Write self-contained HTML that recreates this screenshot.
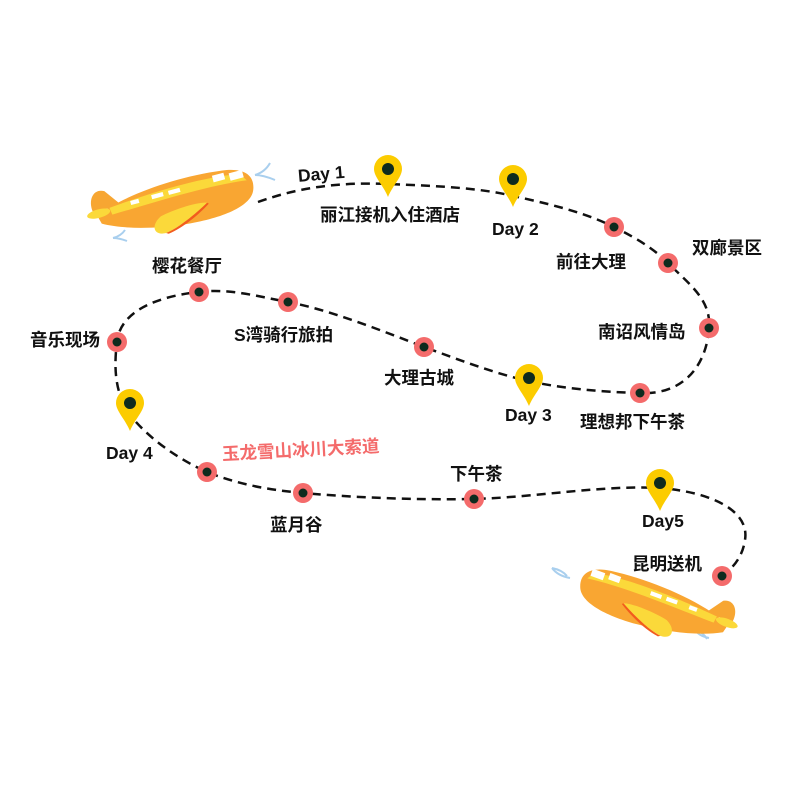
<!DOCTYPE html>
<html><head><meta charset="utf-8"><style>
html,body{margin:0;padding:0;background:#fff;}
svg text{font-family:"Liberation Sans","Noto Sans CJK SC",sans-serif;font-weight:bold;font-size:17.5px;fill:#111;}
</style></head><body>
<svg width="800" height="800" viewBox="0 0 800 800" xmlns="http://www.w3.org/2000/svg">
<defs>
<g id="plane">
  <path d="M-115,5 C-120,-10 -112,-22 -100,-18 L-80,0 Z" fill="#f7a632"/>
  <path d="M-110,10 C-80,-10 -20,-30 40,-35 C65,-37 78,-28 75,-10 C72,8 40,20 0,25 C-40,30 -80,28 -105,20 Z" fill="#f9a632"/>
  <path d="M-95,2 C-50,-12 10,-28 60,-30 L68,-22 C20,-18 -40,-2 -92,10 Z" fill="#fbd93a"/>
  <rect x="28" y="-31" width="14" height="8" fill="#fff" transform="rotate(-12 35 -27)"/>
  <rect x="48" y="-33" width="16" height="9" fill="#fff" transform="rotate(-12 56 -28)"/>
  <rect x="-45" y="-12" width="14" height="5" fill="#fff" transform="rotate(-12 -38 -10)"/>
  <rect x="-25" y="-16" width="14" height="5" fill="#fff" transform="rotate(-12 -18 -14)"/>
  <rect x="-70" y="-6" width="10" height="5" fill="#fff" transform="rotate(-12 -65 -4)"/>
  <ellipse cx="-108" cy="8" rx="14" ry="5" fill="#fbd93a" transform="rotate(-12 -108 8)"/>
  <path d="M-35,15 C-20,8 10,0 20,2 C5,15 -15,30 -30,35 C-45,38 -48,25 -35,15 Z" fill="#fbd93a"/>
  <path d="M20,2 C5,15 -15,30 -30,35 L-27,36 C-10,30 10,15 22,3 Z" fill="#f25c1e"/>
</g>
<g id="pin"><path d="M-14,0 A14,14 0 1 1 14,0 C14,8 5,16 0,28 C-5,16 -14,8 -14,0 Z" fill="#fccc00"/><circle r="6" fill="#0e2b1e"/></g>
<g id="dot"><circle r="10" fill="#f46b6b"/><circle r="4.5" fill="#0e2b1e"/></g>
</defs>

<path d="M255,175 q10,-3 15,-12 M255,175 q8,0 20,5" stroke="#a9cfee" stroke-width="2" fill="none"/>
<path d="M113,238 q8,-2 12,-8 M113,238 q6,0 14,3" stroke="#a9cfee" stroke-width="2" fill="none"/>
<path d="M552,568 q10,2 15,8 M552,568 q6,8 18,10" stroke="#a9cfee" stroke-width="2" fill="none"/>
<path d="M695,630 q8,2 12,9 M695,630 q4,6 14,8" stroke="#a9cfee" stroke-width="2" fill="none"/>

<path d="M258,202 C300,187 340,182 388,184 C440,186 480,188 513,196 C560,206 590,215 614,227 C640,240 655,250 668,263 C690,285 712,300 709,330 C705,370 680,395 640,393 C600,392 560,388 528,381 C490,372 460,360 424,347 C380,330 330,310 288,302 C260,297 230,288 199,292 C160,296 120,310 117,342 C112,380 120,400 130,415 C150,440 180,460 207,472 C240,485 270,490 303,493 C360,498 420,500 474,499 C540,497 600,485 660,488 C710,492 750,510 745,540 C742,560 730,570 722,576" stroke="#111" stroke-width="2.5" stroke-dasharray="9,6" fill="none"/>

<use href="#plane" transform="translate(190,202) scale(0.85) rotate(-3)"/>
<use href="#plane" transform="translate(640,604) scale(-0.82,0.82) rotate(-8)"/>

<use href="#dot" x="614" y="227"/><use href="#dot" x="668" y="263"/><use href="#dot" x="709" y="328"/>
<use href="#dot" x="640" y="393"/><use href="#dot" x="424" y="347"/><use href="#dot" x="288" y="302"/>
<use href="#dot" x="199" y="292"/><use href="#dot" x="117" y="342"/><use href="#dot" x="207" y="472"/>
<use href="#dot" x="303" y="493"/><use href="#dot" x="474" y="499"/><use href="#dot" x="722" y="576"/>

<use href="#pin" x="388" y="169"/><use href="#pin" x="513" y="179"/><use href="#pin" x="529" y="378"/>
<use href="#pin" x="130" y="403"/><use href="#pin" x="660" y="483"/>

<text x="298" y="180" transform="rotate(-5 320 175)">Day 1</text>
<text x="320" y="221">丽江接机入住酒店</text>
<text x="492" y="235">Day 2</text>
<text x="556" y="268">前往大理</text>
<text x="692" y="254">双廊景区</text>
<text x="598" y="338">南诏风情岛</text>
<text x="580" y="428">理想邦下午茶</text>
<text x="505" y="421">Day 3</text>
<text x="384" y="384">大理古城</text>
<text x="234" y="341">S湾骑行旅拍</text>
<text x="152" y="272">樱花餐厅</text>
<text x="30" y="346">音乐现场</text>
<text x="106" y="459">Day 4</text>
<text x="222" y="456" style="fill:#f46b6b" transform="rotate(-3 300 450)">玉龙雪山冰川大索道</text>
<text x="270" y="531">蓝月谷</text>
<text x="450" y="480">下午茶</text>
<text x="642" y="527">Day5</text>
<text x="632" y="570">昆明送机</text>
</svg>
</body></html>
